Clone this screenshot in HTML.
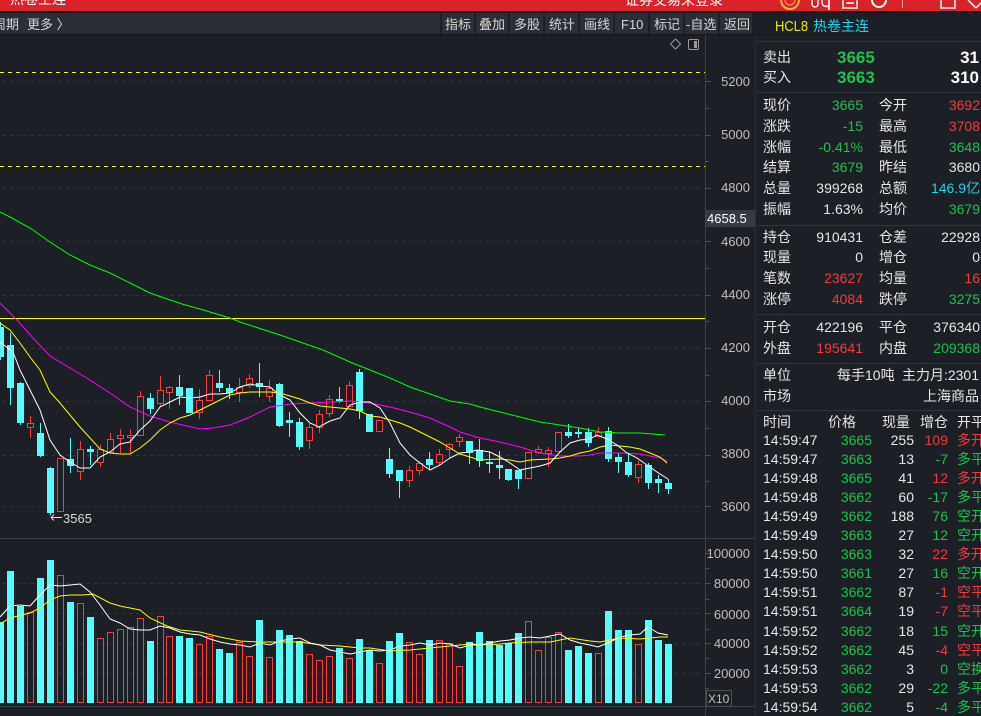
<!DOCTYPE html>
<html>
<head>
<meta charset="utf-8">
<style>
html,body{margin:0;padding:0;background:#1c1f26;}
body{width:981px;height:716px;overflow:hidden;}
svg{display:block;font-family:"Liberation Sans","Noto Sans CJK SC",sans-serif;}
</style>
</head>
<body>
<svg width="981" height="716" viewBox="0 0 981 716" xmlns="http://www.w3.org/2000/svg">
<defs>
<clipPath id="pc"><rect x="0" y="35" width="705" height="502"/></clipPath>
<clipPath id="vc"><rect x="0" y="539" width="705" height="167"/></clipPath>
</defs>
<rect x="0" y="0" width="981" height="716" fill="#1c1f26"/>

<!-- top red bar -->
<rect x="0" y="0" width="981" height="11" fill="#d9222a"/>
<rect x="0" y="11" width="981" height="2" fill="#15171c"/>
<text x="10" y="4" font-size="14" fill="#ffffff">热卷主连</text>
<text x="625" y="5" font-size="14" fill="#ffffff">证券交易未登录</text>
<circle cx="790" cy="0" r="9" fill="#d9222a" stroke="#f3b04a" stroke-width="2"/>
<circle cx="790" cy="0" r="5" fill="none" stroke="#f3b04a" stroke-width="1"/>
<path d="M812 0 v4 a3 3 0 0 0 6 0 v-4 M822 0 v3 a4 4 0 0 0 7 2 M829 0 v10" stroke="#ffffff" stroke-width="1.5" fill="none"/>
<rect x="843" y="-4" width="14" height="12" fill="none" stroke="#ffffff" stroke-width="1.5"/>
<line x1="846" y1="3" x2="854" y2="3" stroke="#ffffff" stroke-width="1.5"/>
<circle cx="879" cy="0" r="7" fill="none" stroke="#ffffff" stroke-width="2"/>
<line x1="902.5" y1="0" x2="902.5" y2="8" stroke="#f0a0a0" stroke-width="1"/>
<rect x="941" y="-4" width="14" height="12" fill="none" stroke="#ffffff" stroke-width="1.5"/>
<path d="M968 0 l8 8 M984 0 l-8 8" stroke="#ffffff" stroke-width="1.5"/>

<!-- toolbar -->
<rect x="0" y="13" width="754" height="21" fill="#2b2e36"/>
<rect x="0" y="34" width="981" height="1" fill="#15171c"/>
<g fill="#1c1f26">
<rect x="440" y="13" width="2" height="21"/>
<rect x="474" y="13" width="2" height="21"/>
<rect x="508" y="13" width="2" height="21"/>
<rect x="543" y="13" width="2" height="21"/>
<rect x="578" y="13" width="2" height="21"/>
<rect x="613" y="13" width="2" height="21"/>
<rect x="648" y="13" width="2" height="21"/>
<rect x="683" y="13" width="2" height="21"/>
<rect x="718" y="13" width="2" height="21"/>
<rect x="752" y="13" width="229" height="21"/>
</g>
<g font-size="13" fill="#d6d6d6">
<text x="-7" y="29">周期</text>
<text x="27" y="29">更多 〉</text>
<text x="445" y="29">指标</text>
<text x="479" y="29">叠加</text>
<text x="514" y="29">多股</text>
<text x="549" y="29">统计</text>
<text x="584" y="29">画线</text>
<text x="621" y="29">F10</text>
<text x="654" y="29">标记</text>
<text x="686" y="29">-自选</text>
<text x="724" y="29">返回</text>
</g>
<text x="775" y="31" font-size="15" fill="#e8e800" textLength="33" lengthAdjust="spacingAndGlyphs">HCL8</text>
<text x="813" y="31" font-size="14" fill="#1fd3ea">热卷主连</text>

<!-- chart icons -->
<polygon points="675.5,39 680.5,44 675.5,49 670.5,44" fill="none" stroke="#9a9a9a" stroke-width="1"/>
<rect x="688.5" y="39.5" width="10" height="10" rx="1.5" fill="none" stroke="#9a9a9a" stroke-width="1"/>
<rect x="694" y="41" width="3" height="7" fill="#9a9a9a"/>

<!-- axes lines -->
<line x1="705.5" y1="35" x2="705.5" y2="716" stroke="#3c414b" stroke-width="1"/>
<line x1="755.5" y1="35" x2="755.5" y2="716" stroke="#2a2e36" stroke-width="1"/>
<line x1="0" y1="538.5" x2="755" y2="538.5" stroke="#3a3e47" stroke-width="1"/>
<line x1="0" y1="706.5" x2="755" y2="706.5" stroke="#3a3e47" stroke-width="1"/>

<!-- price grid -->
<g stroke="#30343c" stroke-width="1" stroke-dasharray="3,4">
<line x1="3" y1="81.5" x2="702" y2="81.5"/>
<line x1="3" y1="135.5" x2="702" y2="135.5"/>
<line x1="3" y1="188.5" x2="702" y2="188.5"/>
<line x1="3" y1="241.5" x2="702" y2="241.5"/>
<line x1="3" y1="295.5" x2="702" y2="295.5"/>
<line x1="3" y1="348.5" x2="702" y2="348.5"/>
<line x1="3" y1="401.5" x2="702" y2="401.5"/>
<line x1="3" y1="455.5" x2="702" y2="455.5"/>
<line x1="3" y1="506.5" x2="702" y2="506.5"/>
</g>
<g stroke="#30343c" stroke-width="1" stroke-dasharray="3,4">
<line x1="3" y1="583.5" x2="702" y2="583.5"/>
<line x1="3" y1="613.5" x2="702" y2="613.5"/>
<line x1="3" y1="643.5" x2="702" y2="643.5"/>
<line x1="3" y1="673.5" x2="702" y2="673.5"/>
</g>

<!-- yellow reference lines -->
<line x1="0" y1="72.5" x2="705" y2="72.5" stroke="#ffff00" stroke-width="1" stroke-dasharray="4,4"/>
<line x1="0" y1="166.5" x2="705" y2="166.5" stroke="#ffff00" stroke-width="1" stroke-dasharray="4,4"/>
<line x1="0" y1="318.5" x2="705" y2="318.5" stroke="#ffff00" stroke-width="1"/>

<!-- price axis ticks -->
<g stroke="#4a4f59" stroke-width="1">
<line x1="705" y1="81.5" x2="711" y2="81.5"/><line x1="705" y1="108.5" x2="709" y2="108.5"/>
<line x1="705" y1="135.5" x2="711" y2="135.5"/><line x1="705" y1="161.5" x2="709" y2="161.5"/>
<line x1="705" y1="188.5" x2="711" y2="188.5"/><line x1="705" y1="215.5" x2="709" y2="215.5"/>
<line x1="705" y1="241.5" x2="711" y2="241.5"/><line x1="705" y1="268.5" x2="709" y2="268.5"/>
<line x1="705" y1="295.5" x2="711" y2="295.5"/><line x1="705" y1="321.5" x2="709" y2="321.5"/>
<line x1="705" y1="348.5" x2="711" y2="348.5"/><line x1="705" y1="375.5" x2="709" y2="375.5"/>
<line x1="705" y1="401.5" x2="711" y2="401.5"/><line x1="705" y1="428.5" x2="709" y2="428.5"/>
<line x1="705" y1="455.5" x2="711" y2="455.5"/><line x1="705" y1="481.5" x2="709" y2="481.5"/>
<line x1="705" y1="506.5" x2="711" y2="506.5"/>
<line x1="705" y1="553.5" x2="711" y2="553.5"/><line x1="705" y1="568.5" x2="709" y2="568.5"/>
<line x1="705" y1="583.5" x2="711" y2="583.5"/><line x1="705" y1="599.5" x2="709" y2="599.5"/>
<line x1="705" y1="613.5" x2="711" y2="613.5"/><line x1="705" y1="629.5" x2="709" y2="629.5"/>
<line x1="705" y1="643.5" x2="711" y2="643.5"/><line x1="705" y1="658.5" x2="709" y2="658.5"/>
<line x1="705" y1="673.5" x2="711" y2="673.5"/><line x1="705" y1="688.5" x2="709" y2="688.5"/>
</g>
<g font-size="13" fill="#c4bfb5" text-anchor="end">
<text x="750" y="86">5200</text>
<text x="750" y="139">5000</text>
<text x="750" y="192">4800</text>
<text x="750" y="246">4600</text>
<text x="750" y="299">4400</text>
<text x="750" y="352">4200</text>
<text x="750" y="405">4000</text>
<text x="750" y="458">3800</text>
<text x="750" y="511">3600</text>
<text x="750" y="558">100000</text>
<text x="750" y="588">80000</text>
<text x="750" y="619">60000</text>
<text x="750" y="648">40000</text>
<text x="750" y="678">20000</text>
</g>
<rect x="706" y="210" width="49" height="17" fill="#353a45"/>
<text x="707" y="223" font-size="13" fill="#ffffff">4658.5</text>
<rect x="706.5" y="690.5" width="25" height="16" fill="none" stroke="#4a4f58" stroke-width="1"/>
<text x="708" y="703" font-size="12" fill="#c4bfb5">X10</text>

<!-- candles -->
<g clip-path="url(#pc)" shape-rendering="crispEdges">
<g fill="#54fcfc">
<rect x="0" y="322" width="1" height="38"/><rect x="-3" y="327" width="7" height="30"/>
<rect x="10" y="333" width="1" height="72"/><rect x="7" y="345" width="7" height="43"/>
<rect x="20" y="382" width="1" height="43"/><rect x="17" y="383" width="7" height="40"/>
<rect x="40" y="423" width="1" height="34"/><rect x="37" y="433" width="7" height="23"/>
<rect x="50" y="467" width="1" height="48"/><rect x="47" y="468" width="7" height="45"/>
<rect x="70" y="438" width="1" height="35"/><rect x="67" y="459" width="7" height="7"/>
<rect x="90" y="446" width="1" height="19"/><rect x="87" y="449" width="7" height="3"/>
<rect x="150" y="393" width="1" height="21"/><rect x="147" y="398" width="7" height="11"/>
<rect x="179" y="375" width="1" height="30"/><rect x="176" y="387" width="7" height="9"/>
<rect x="189" y="388" width="1" height="25"/><rect x="186" y="388" width="7" height="25"/>
<rect x="219" y="370" width="1" height="22"/><rect x="216" y="383" width="7" height="5"/>
<rect x="229" y="384" width="1" height="15"/><rect x="226" y="388" width="7" height="5"/>
<rect x="259" y="363" width="1" height="34"/><rect x="256" y="383" width="7" height="4"/>
<rect x="279" y="383" width="1" height="44"/><rect x="276" y="384" width="7" height="42"/>
<rect x="289" y="412" width="1" height="25"/><rect x="286" y="420" width="7" height="3"/>
<rect x="299" y="418" width="1" height="32"/><rect x="296" y="422" width="7" height="25"/>
<rect x="339" y="387" width="1" height="16"/><rect x="336" y="399" width="7" height="3"/>
<rect x="359" y="369" width="1" height="50"/><rect x="356" y="372" width="7" height="39"/>
<rect x="369" y="414" width="1" height="18"/><rect x="366" y="414" width="7" height="18"/>
<rect x="389" y="448" width="1" height="30"/><rect x="386" y="459" width="7" height="15"/>
<rect x="399" y="470" width="1" height="28"/><rect x="396" y="470" width="7" height="11"/>
<rect x="429" y="452" width="1" height="17"/><rect x="426" y="459" width="7" height="6"/>
<rect x="469" y="441" width="1" height="23"/><rect x="466" y="441" width="7" height="12"/>
<rect x="479" y="439" width="1" height="28"/><rect x="476" y="450" width="7" height="11"/>
<rect x="489" y="452" width="1" height="21"/><rect x="486" y="462" width="7" height="2"/>
<rect x="499" y="451" width="1" height="28"/><rect x="496" y="465" width="7" height="3"/>
<rect x="508" y="469" width="1" height="12"/><rect x="505" y="469" width="7" height="11"/>
<rect x="518" y="470" width="1" height="19"/><rect x="515" y="470" width="7" height="9"/>
<rect x="568" y="424" width="1" height="14"/><rect x="565" y="432" width="7" height="4"/>
<rect x="578" y="428" width="1" height="10"/><rect x="575" y="432" width="7" height="2"/>
<rect x="588" y="428" width="1" height="19"/><rect x="585" y="432" width="7" height="11"/>
<rect x="608" y="427" width="1" height="35"/><rect x="605" y="431" width="7" height="28"/>
<rect x="618" y="453" width="1" height="20"/><rect x="615" y="457" width="7" height="5"/>
<rect x="628" y="453" width="1" height="24"/><rect x="625" y="462" width="7" height="13"/>
<rect x="648" y="463" width="1" height="26"/><rect x="645" y="465" width="7" height="18"/>
<rect x="658" y="475" width="1" height="18"/><rect x="655" y="479" width="7" height="4"/>
<rect x="668" y="479" width="1" height="15"/><rect x="665" y="483" width="7" height="6"/>
</g>
<g fill="#ff3a3a">
<rect x="30" y="416" width="1" height="22"/>
<rect x="60" y="458" width="1" height="54"/>
<rect x="80" y="441" width="1" height="39"/>
<rect x="100" y="445" width="1" height="22"/>
<rect x="110" y="433" width="1" height="20"/>
<rect x="120" y="429" width="1" height="24"/>
<rect x="130" y="429" width="1" height="24"/>
<rect x="140" y="391" width="1" height="45"/>
<rect x="160" y="376" width="1" height="31"/>
<rect x="169" y="386" width="1" height="23"/>
<rect x="199" y="389" width="1" height="30"/>
<rect x="209" y="370" width="1" height="31"/>
<rect x="239" y="378" width="1" height="24"/>
<rect x="249" y="374" width="1" height="14"/>
<rect x="269" y="380" width="1" height="22"/>
<rect x="309" y="423" width="1" height="26"/>
<rect x="319" y="410" width="1" height="23"/>
<rect x="329" y="395" width="1" height="22"/>
<rect x="349" y="381" width="1" height="26"/>
<rect x="379" y="420" width="1" height="12"/>
<rect x="409" y="466" width="1" height="21"/>
<rect x="419" y="461" width="1" height="14"/>
<rect x="439" y="449" width="1" height="16"/>
<rect x="449" y="443" width="1" height="15"/>
<rect x="459" y="434" width="1" height="13"/>
<rect x="528" y="452" width="1" height="27"/>
<rect x="538" y="446" width="1" height="8"/>
<rect x="548" y="447" width="1" height="20"/>
<rect x="558" y="432" width="1" height="20"/>
<rect x="598" y="427" width="1" height="10"/>
<rect x="638" y="461" width="1" height="22"/>
</g>
<g fill="#1c1f26" stroke="#ff3a3a" stroke-width="1">
<rect x="27.5" y="423.5" width="6" height="4"/>
<rect x="57.5" y="458.5" width="6" height="53"/>
<rect x="77.5" y="449.5" width="6" height="22"/>
<rect x="97.5" y="449.5" width="6" height="13"/>
<rect x="107.5" y="439.5" width="6" height="13"/>
<rect x="117.5" y="435.5" width="6" height="3"/>
<rect x="127.5" y="435.5" width="6" height="2"/>
<rect x="137.5" y="396.5" width="6" height="39"/>
<rect x="157.5" y="390.5" width="6" height="13"/>
<rect x="166.5" y="387.5" width="6" height="5"/>
<rect x="196.5" y="400.5" width="6" height="12"/>
<rect x="206.5" y="375.5" width="6" height="25"/>
<rect x="236.5" y="387.5" width="6" height="5"/>
<rect x="246.5" y="378.5" width="6" height="7"/>
<rect x="266.5" y="388.5" width="6" height="8"/>
<rect x="306.5" y="427.5" width="6" height="13"/>
<rect x="316.5" y="414.5" width="6" height="13"/>
<rect x="326.5" y="399.5" width="6" height="14"/>
<rect x="346.5" y="385.5" width="6" height="21"/>
<rect x="376.5" y="420.5" width="6" height="11"/>
<rect x="406.5" y="470.5" width="6" height="10"/>
<rect x="416.5" y="463.5" width="6" height="7"/>
<rect x="436.5" y="454.5" width="6" height="8"/>
<rect x="446.5" y="444.5" width="6" height="5"/>
<rect x="456.5" y="437.5" width="6" height="4"/>
<rect x="525.5" y="452.5" width="6" height="26"/>
<rect x="535.5" y="449.5" width="6" height="3"/>
<rect x="545.5" y="450.5" width="6" height="3"/>
<rect x="555.5" y="432.5" width="6" height="19"/>
<rect x="595.5" y="432.5" width="6" height="4"/>
<rect x="635.5" y="464.5" width="6" height="13"/>
</g>
</g>

<!-- price MAs -->
<g clip-path="url(#pc)" fill="none" stroke-width="1">
<polyline stroke="#00ff00" points="0,212 10,217 30,228 50,242 70,255 90,265 110,273 130,283 150,293 170,300 182,304 200,309 230,318 240,322 280,335 323,350 350,362 370,370 390,378 410,387 430,394 450,401 470,404 480,407 500,412 520,417 540,422 560,425 580,428 600,432 620,433 640,433 665,435"/>
<polyline stroke="#ff00ff" points="0,303 17,320 33,338 50,356 70,368 90,380 110,393 130,407 150,416 170,422 187,426 200,429 213,428 230,425 250,417 270,407 290,404 310,403 330,402 350,401 360,402 370,403 390,407 410,412 430,418 450,427 460,432 480,438 500,442 520,447 540,453 560,456 580,456 590,455 600,453 620,453 640,454 650,456 660,458 667,461"/>
<polyline stroke="#ffff00" points="0,323 10,330 20,343 30,357 40,370 50,392 60,403 70,415 80,427 90,438 100,449 110,453 120,454 130,454 140,448 150,440 160,430 170,423 180,418 190,415 200,410 210,405 220,400 230,395 240,393 250,392 270,392 280,393 290,396 300,399 310,403 320,406 330,407 340,408 350,409 360,411 370,416 380,417 390,420 400,423 410,427 420,432 430,437 440,442 450,448 460,454 470,457 480,460 500,459 510,460 520,462 530,460 550,459 560,458 570,456 580,453 590,451 600,447 610,445 620,446 630,447 640,449 650,453 660,457 667,463"/>
<polyline stroke="#ffffff" points="0,342 13,352 20,370 30,390 40,410 50,440 60,455 70,462 80,468 90,468 100,457 110,452 120,444 130,442 140,430 150,421 160,407 170,402 180,397 190,398 200,397 210,394 220,394 230,393 240,387 250,384 260,386 270,387 280,395 290,400 300,413 310,423 319,427 330,421 340,418 350,405 360,402 370,402 380,408 390,423 400,443 410,455 420,463 430,470 440,465 450,458 460,453 470,452 477,450 490,452 500,457 510,463 520,470 530,468 540,466 550,463 560,452 570,443 580,440 590,439 597,435 607,439 617,445 627,453 637,458 647,465 657,472 668,479"/>
</g>

<!-- low marker -->
<line x1="51" y1="517.5" x2="62" y2="517.5" stroke="#e0e0e0" stroke-width="1"/>
<polyline points="54,514.5 51,517.5 54,520.5" fill="none" stroke="#e0e0e0" stroke-width="1"/>
<text x="63" y="523" font-size="13" fill="#d8d8d8">3565</text>

<!-- volume bars -->
<g clip-path="url(#vc)" shape-rendering="crispEdges">
<g fill="#54fcfc">
<rect x="-3" y="622" width="7" height="81"/>
<rect x="7" y="571" width="7" height="132"/>
<rect x="17" y="606" width="7" height="97"/>
<rect x="37" y="578" width="7" height="125"/>
<rect x="47" y="560" width="7" height="143"/>
<rect x="67" y="602" width="7" height="101"/>
<rect x="87" y="617" width="7" height="86"/>
<rect x="147" y="641" width="7" height="62"/>
<rect x="176" y="636" width="7" height="67"/>
<rect x="186" y="638" width="7" height="65"/>
<rect x="216" y="649" width="7" height="54"/>
<rect x="226" y="653" width="7" height="50"/>
<rect x="256" y="620" width="7" height="83"/>
<rect x="276" y="630" width="7" height="73"/>
<rect x="286" y="635" width="7" height="68"/>
<rect x="296" y="641" width="7" height="62"/>
<rect x="336" y="648" width="7" height="55"/>
<rect x="356" y="639" width="7" height="64"/>
<rect x="366" y="650" width="7" height="53"/>
<rect x="386" y="641" width="7" height="62"/>
<rect x="396" y="633" width="7" height="70"/>
<rect x="426" y="640" width="7" height="63"/>
<rect x="466" y="642" width="7" height="61"/>
<rect x="476" y="632" width="7" height="71"/>
<rect x="486" y="641" width="7" height="62"/>
<rect x="496" y="645" width="7" height="58"/>
<rect x="505" y="643" width="7" height="60"/>
<rect x="515" y="633" width="7" height="70"/>
<rect x="565" y="650" width="7" height="53"/>
<rect x="575" y="646" width="7" height="57"/>
<rect x="585" y="653" width="7" height="50"/>
<rect x="605" y="611" width="7" height="92"/>
<rect x="615" y="630" width="7" height="73"/>
<rect x="625" y="630" width="7" height="73"/>
<rect x="645" y="620" width="7" height="83"/>
<rect x="655" y="640" width="7" height="63"/>
<rect x="665" y="644" width="7" height="59"/>
</g>
<g fill="none" stroke="#ff3a3a" stroke-width="1">
<rect x="27.5" y="612.5" width="6" height="90"/>
<rect x="57.5" y="575.5" width="6" height="127"/>
<rect x="77.5" y="603.5" width="6" height="99"/>
<rect x="97.5" y="638.5" width="6" height="64"/>
<rect x="107.5" y="632.5" width="6" height="70"/>
<rect x="117.5" y="629.5" width="6" height="73"/>
<rect x="127.5" y="627.5" width="6" height="75"/>
<rect x="137.5" y="618.5" width="6" height="84"/>
<rect x="157.5" y="616.5" width="6" height="86"/>
<rect x="166.5" y="636.5" width="6" height="66"/>
<rect x="196.5" y="644.5" width="6" height="58"/>
<rect x="206.5" y="636.5" width="6" height="66"/>
<rect x="236.5" y="642.5" width="6" height="60"/>
<rect x="246.5" y="656.5" width="6" height="46"/>
<rect x="266.5" y="657.5" width="6" height="45"/>
<rect x="306.5" y="654.5" width="6" height="48"/>
<rect x="316.5" y="660.5" width="6" height="42"/>
<rect x="326.5" y="656.5" width="6" height="46"/>
<rect x="346.5" y="658.5" width="6" height="44"/>
<rect x="376.5" y="663.5" width="6" height="39"/>
<rect x="406.5" y="642.5" width="6" height="60"/>
<rect x="416.5" y="654.5" width="6" height="48"/>
<rect x="436.5" y="640.5" width="6" height="62"/>
<rect x="446.5" y="643.5" width="6" height="59"/>
<rect x="456.5" y="666.5" width="6" height="36"/>
<rect x="525.5" y="621.5" width="6" height="81"/>
<rect x="535.5" y="650.5" width="6" height="52"/>
<rect x="545.5" y="637.5" width="6" height="65"/>
<rect x="555.5" y="632.5" width="6" height="70"/>
<rect x="595.5" y="653.5" width="6" height="49"/>
<rect x="635.5" y="644.5" width="6" height="58"/>
</g>
</g>

<!-- volume MAs -->
<g clip-path="url(#vc)" fill="none" stroke-width="1">
<polyline stroke="#ffff00" points="0,624 10,618 30,613 40,608 50,600 60,596 70,595 83,595 93,594 110,603 120,606 140,610 150,618 167,626 180,630 200,632 220,637 240,641 260,642 280,642 300,642 320,645 340,646 360,648 370,648 390,651 410,650 430,648 450,646 470,644 490,645 510,643 530,642 550,642 570,638 590,641 600,642 620,638 640,639 660,637 668,637"/>
<polyline stroke="#ffffff" points="0,617 10,606 20,605 30,606 40,595 50,585 60,586 70,585 80,584 90,592 100,605 110,619 120,623 130,629 140,630 150,630 160,626 170,628 180,632 190,634 200,635 210,639 220,642 230,644 240,645 250,647 260,643 270,645 280,641 290,639 300,638 310,643 320,645 330,650 340,652 350,654 360,652 370,650 380,651 390,650 400,646 410,645 420,643 430,645 440,643 450,644 460,648 470,645 480,645 490,643 500,641 510,640 520,638 530,637 540,638 550,636 560,634 570,640 580,643 590,645 598,647 610,642 620,637 630,635 640,634 648,627 658,633 668,635"/>
</g>

<!-- right panel separators -->
<g stroke="#32363e" stroke-width="1">
<line x1="757" y1="41.5" x2="981" y2="41.5"/>
<line x1="757" y1="92.5" x2="981" y2="92.5"/>
<line x1="757" y1="225.5" x2="981" y2="225.5"/>
<line x1="757" y1="314.5" x2="981" y2="314.5"/>
<line x1="757" y1="363.5" x2="981" y2="363.5"/>
<line x1="757" y1="410.5" x2="981" y2="410.5"/>
</g>

<!-- right panel quote -->
<g font-size="14" fill="#e6e6e6">
<text x="763" y="62">卖出</text>
<text x="763" y="82">买入</text>
<text x="763" y="110">现价</text>
<text x="763" y="131">涨跌</text>
<text x="763" y="152">涨幅</text>
<text x="763" y="172">结算</text>
<text x="763" y="193">总量</text>
<text x="763" y="214">振幅</text>
<text x="879" y="110">今开</text>
<text x="879" y="131">最高</text>
<text x="879" y="152">最低</text>
<text x="879" y="172">昨结</text>
<text x="879" y="193">总额</text>
<text x="879" y="214">均价</text>
<text x="763" y="242">持仓</text>
<text x="763" y="262">现量</text>
<text x="763" y="283">笔数</text>
<text x="763" y="304">涨停</text>
<text x="879" y="242">仓差</text>
<text x="879" y="262">增仓</text>
<text x="879" y="283">均量</text>
<text x="879" y="304">跌停</text>
<text x="763" y="332">开仓</text>
<text x="763" y="353">外盘</text>
<text x="879" y="332">平仓</text>
<text x="879" y="353">内盘</text>
<text x="763" y="380">单位</text>
<text x="763" y="401">市场</text>
<text x="837" y="380">每手10吨</text>
<text x="979" y="380" text-anchor="end">主力月:2301</text>
<text x="979" y="401" text-anchor="end">上海商品</text>
</g>
<g font-size="17" font-weight="bold">
<text x="837" y="63" fill="#1dc24b">3665</text>
<text x="837" y="83" fill="#1dc24b">3663</text>
<text x="979" y="63" fill="#ffffff" text-anchor="end">31</text>
<text x="979" y="83" fill="#ffffff" text-anchor="end">310</text>
</g>
<g font-size="14" text-anchor="end">
<text x="863" y="110" fill="#1dc24b">3665</text>
<text x="863" y="131" fill="#1dc24b">-15</text>
<text x="863" y="152" fill="#1dc24b">-0.41%</text>
<text x="863" y="172" fill="#1dc24b">3679</text>
<text x="863" y="193" fill="#e6e6e6">399268</text>
<text x="863" y="214" fill="#e6e6e6">1.63%</text>
<text x="980" y="110" fill="#f23b3b">3692</text>
<text x="980" y="131" fill="#f23b3b">3708</text>
<text x="980" y="152" fill="#1dc24b">3648</text>
<text x="980" y="172" fill="#e6e6e6">3680</text>
<text x="980" y="193" fill="#1fd3ea">146.9亿</text>
<text x="980" y="214" fill="#1dc24b">3679</text>
<text x="863" y="242" fill="#e6e6e6">910431</text>
<text x="863" y="262" fill="#e6e6e6">0</text>
<text x="863" y="283" fill="#f23b3b">23627</text>
<text x="863" y="304" fill="#f23b3b">4084</text>
<text x="980" y="242" fill="#e6e6e6">22928</text>
<text x="980" y="262" fill="#e6e6e6">0</text>
<text x="980" y="283" fill="#f23b3b">16</text>
<text x="980" y="304" fill="#1dc24b">3275</text>
<text x="863" y="332" fill="#e6e6e6">422196</text>
<text x="863" y="353" fill="#f23b3b">195641</text>
<text x="980" y="332" fill="#e6e6e6">376340</text>
<text x="980" y="353" fill="#1dc24b">209368</text>
</g>

<!-- tick table -->
<g font-size="14" fill="#e6e6e6">
<text x="763" y="427">时间</text>
<text x="828" y="427">价格</text>
<text x="882" y="427">现量</text>
<text x="920" y="427">增仓</text>
<text x="957" y="427">开平</text>
</g>
<g font-size="14" fill="#e6e6e6">
<text x="763" y="445">14:59:47</text>
<text x="763" y="464">14:59:47</text>
<text x="763" y="483">14:59:48</text>
<text x="763" y="502">14:59:48</text>
<text x="763" y="521">14:59:49</text>
<text x="763" y="540">14:59:49</text>
<text x="763" y="559">14:59:50</text>
<text x="763" y="578">14:59:50</text>
<text x="763" y="597">14:59:51</text>
<text x="763" y="616">14:59:51</text>
<text x="763" y="636">14:59:52</text>
<text x="763" y="655">14:59:52</text>
<text x="763" y="674">14:59:53</text>
<text x="763" y="693">14:59:53</text>
<text x="763" y="712">14:59:54</text>
</g>
<g font-size="14" fill="#1dc24b" text-anchor="end">
<text x="872" y="445">3665</text>
<text x="872" y="464">3663</text>
<text x="872" y="483">3665</text>
<text x="872" y="502">3662</text>
<text x="872" y="521">3662</text>
<text x="872" y="540">3663</text>
<text x="872" y="559">3663</text>
<text x="872" y="578">3661</text>
<text x="872" y="597">3662</text>
<text x="872" y="616">3664</text>
<text x="872" y="636">3662</text>
<text x="872" y="655">3662</text>
<text x="872" y="674">3662</text>
<text x="872" y="693">3662</text>
<text x="872" y="712">3662</text>
</g>
<g font-size="14" fill="#e6e6e6" text-anchor="end">
<text x="914" y="445">255</text>
<text x="914" y="464">13</text>
<text x="914" y="483">41</text>
<text x="914" y="502">60</text>
<text x="914" y="521">188</text>
<text x="914" y="540">27</text>
<text x="914" y="559">32</text>
<text x="914" y="578">27</text>
<text x="914" y="597">87</text>
<text x="914" y="616">19</text>
<text x="914" y="636">18</text>
<text x="914" y="655">45</text>
<text x="914" y="674">3</text>
<text x="914" y="693">29</text>
<text x="914" y="712">5</text>
</g>
<g font-size="14" text-anchor="end">
<text x="948" y="445" fill="#f23b3b">109</text>
<text x="948" y="464" fill="#1dc24b">-7</text>
<text x="948" y="483" fill="#f23b3b">12</text>
<text x="948" y="502" fill="#1dc24b">-17</text>
<text x="948" y="521" fill="#1dc24b">76</text>
<text x="948" y="540" fill="#1dc24b">12</text>
<text x="948" y="559" fill="#f23b3b">22</text>
<text x="948" y="578" fill="#1dc24b">16</text>
<text x="948" y="597" fill="#f23b3b">-1</text>
<text x="948" y="616" fill="#f23b3b">-7</text>
<text x="948" y="636" fill="#1dc24b">15</text>
<text x="948" y="655" fill="#f23b3b">-4</text>
<text x="948" y="674" fill="#1dc24b">0</text>
<text x="948" y="693" fill="#1dc24b">-22</text>
<text x="948" y="712" fill="#1dc24b">-4</text>
</g>
<g font-size="14">
<text x="957" y="445" fill="#f23b3b">多开</text>
<text x="957" y="464" fill="#1dc24b">多平</text>
<text x="957" y="483" fill="#f23b3b">多开</text>
<text x="957" y="502" fill="#1dc24b">多平</text>
<text x="957" y="521" fill="#1dc24b">空开</text>
<text x="957" y="540" fill="#1dc24b">空开</text>
<text x="957" y="559" fill="#f23b3b">多开</text>
<text x="957" y="578" fill="#1dc24b">空开</text>
<text x="957" y="597" fill="#f23b3b">空平</text>
<text x="957" y="616" fill="#f23b3b">空平</text>
<text x="957" y="636" fill="#1dc24b">空开</text>
<text x="957" y="655" fill="#f23b3b">空平</text>
<text x="957" y="674" fill="#1dc24b">空换</text>
<text x="957" y="693" fill="#1dc24b">多平</text>
<text x="957" y="712" fill="#1dc24b">多平</text>
</g>
</svg>
</body>
</html>
